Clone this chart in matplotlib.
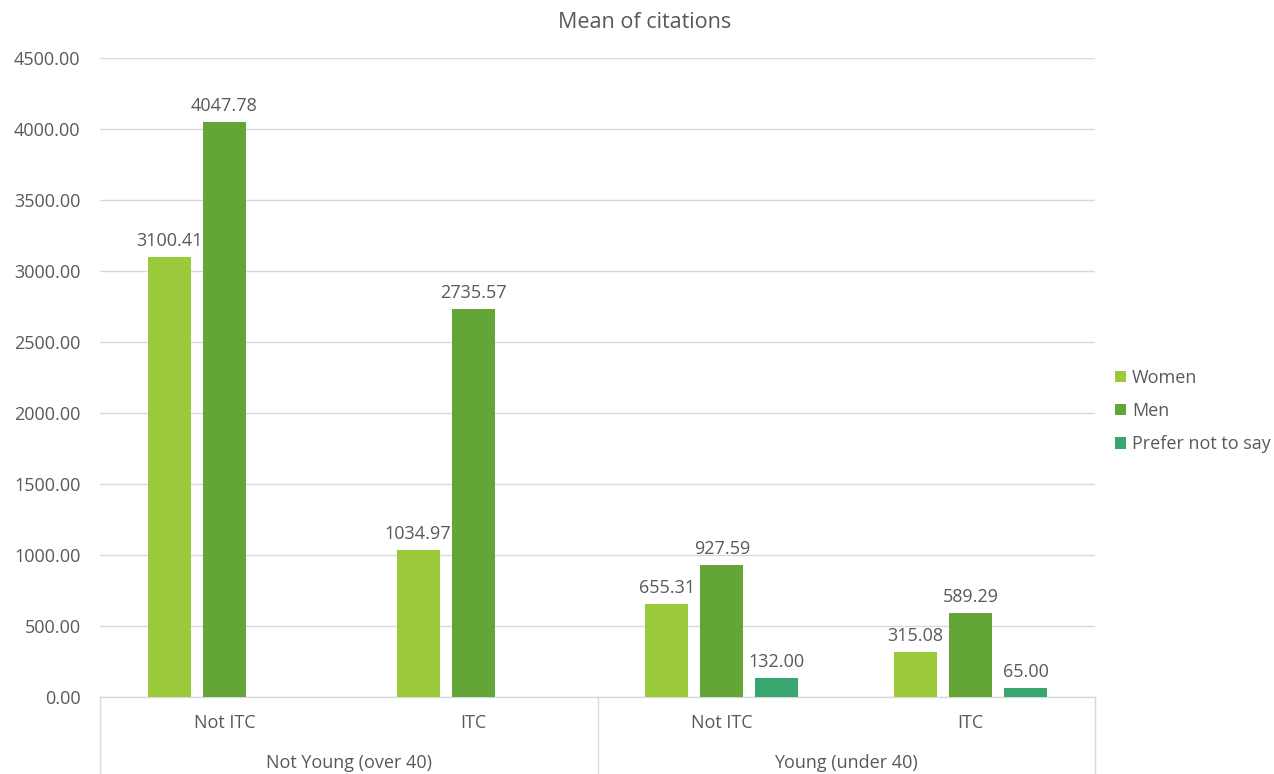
import numpy as np
import matplotlib.pyplot as plt
from matplotlib.lines import Line2D

plt.rcParams['font.family'] = ['Open Sans', 'DejaVu Sans']

# Mean citations by age group / ITC status / gender
groups = ["Not Young (over 40)", "Young (under 40)"]
subcats = ["Not ITC", "ITC", "Not ITC", "ITC"]
series = ["Women", "Men", "Prefer not to say"]
women = [3100.41, 1034.97, 655.31, 315.08]
men = [4047.78, 2735.57, 927.59, 589.29]
prefer = [np.nan, np.nan, 132.00, 65.00]
colors = ["#9ACA3C", "#63A537", "#37A76F"]

text_col = "#595959"
grid_col = "#D9D9D9"
fs = 13

fig = plt.figure(figsize=(12.74, 7.74), dpi=100)
ax = fig.add_axes([0.0785, 0.0995, 0.781, 0.8256])

x = np.arange(len(subcats))
offsets = [-0.221, 0.0, 0.221]
width = 0.173

for vals, off, col, name in zip([women, men, prefer], offsets, colors, series):
    vals = np.array(vals, dtype=float)
    mask = ~np.isnan(vals)
    bars = ax.bar(x[mask] + off, vals[mask], width=width, color=col, label=name, zorder=3)
    for b, v in zip(bars, vals[mask]):
        ax.annotate(f"{v:.2f}", (b.get_x() + b.get_width() / 2, v),
                    xytext=(0, 5), textcoords="offset points",
                    ha="center", va="bottom", fontsize=fs, color=text_col)

ax.set_xlim(-0.5, len(subcats) - 0.5)
ax.set_ylim(0, 4500)
ax.set_yticks(np.arange(0, 4501, 500))
ax.set_yticklabels([f"{t:.2f}" for t in np.arange(0, 4501, 500)])
ax.yaxis.grid(True, color=grid_col, linewidth=1, zorder=0)
ax.tick_params(axis="y", length=0, pad=14, labelsize=fs, labelcolor=text_col)
ax.set_xticks([])
for s in ["top", "right", "left"]:
    ax.spines[s].set_visible(False)
ax.spines["bottom"].set_color(grid_col)
ax.spines["bottom"].set_linewidth(1)

# two-level category axis
depth = -0.1205
for xa in [0.0, 0.5, 1.0]:
    ax.add_line(Line2D([xa, xa], [0, depth], transform=ax.transAxes,
                       color=grid_col, linewidth=1, clip_on=False))
for xi, lab in zip(x, subcats):
    ax.text((xi + 0.5) / len(subcats), -0.041, lab, transform=ax.transAxes,
            ha="center", va="center", fontsize=fs, color=text_col)
for gi, lab in enumerate(groups):
    ax.text(0.25 + 0.5 * gi, -0.104, lab, transform=ax.transAxes,
            ha="center", va="center", fontsize=fs, color=text_col)

fig.text(645 / 1274, 1 - 22 / 774, "Mean of citations", ha="center", va="center",
         fontsize=15.5, color=text_col)

leg = fig.legend(*ax.get_legend_handles_labels(), loc="center left",
                 bbox_to_anchor=(1115 / 1274, 1 - 411 / 774), frameon=False,
                 fontsize=fs, handlelength=0.6, handleheight=0.6, handletextpad=0.35,
                 labelspacing=0.85, borderaxespad=0, borderpad=0)
for t in leg.get_texts():
    t.set_color(text_col)

fig.savefig("out.png", dpi=100)
